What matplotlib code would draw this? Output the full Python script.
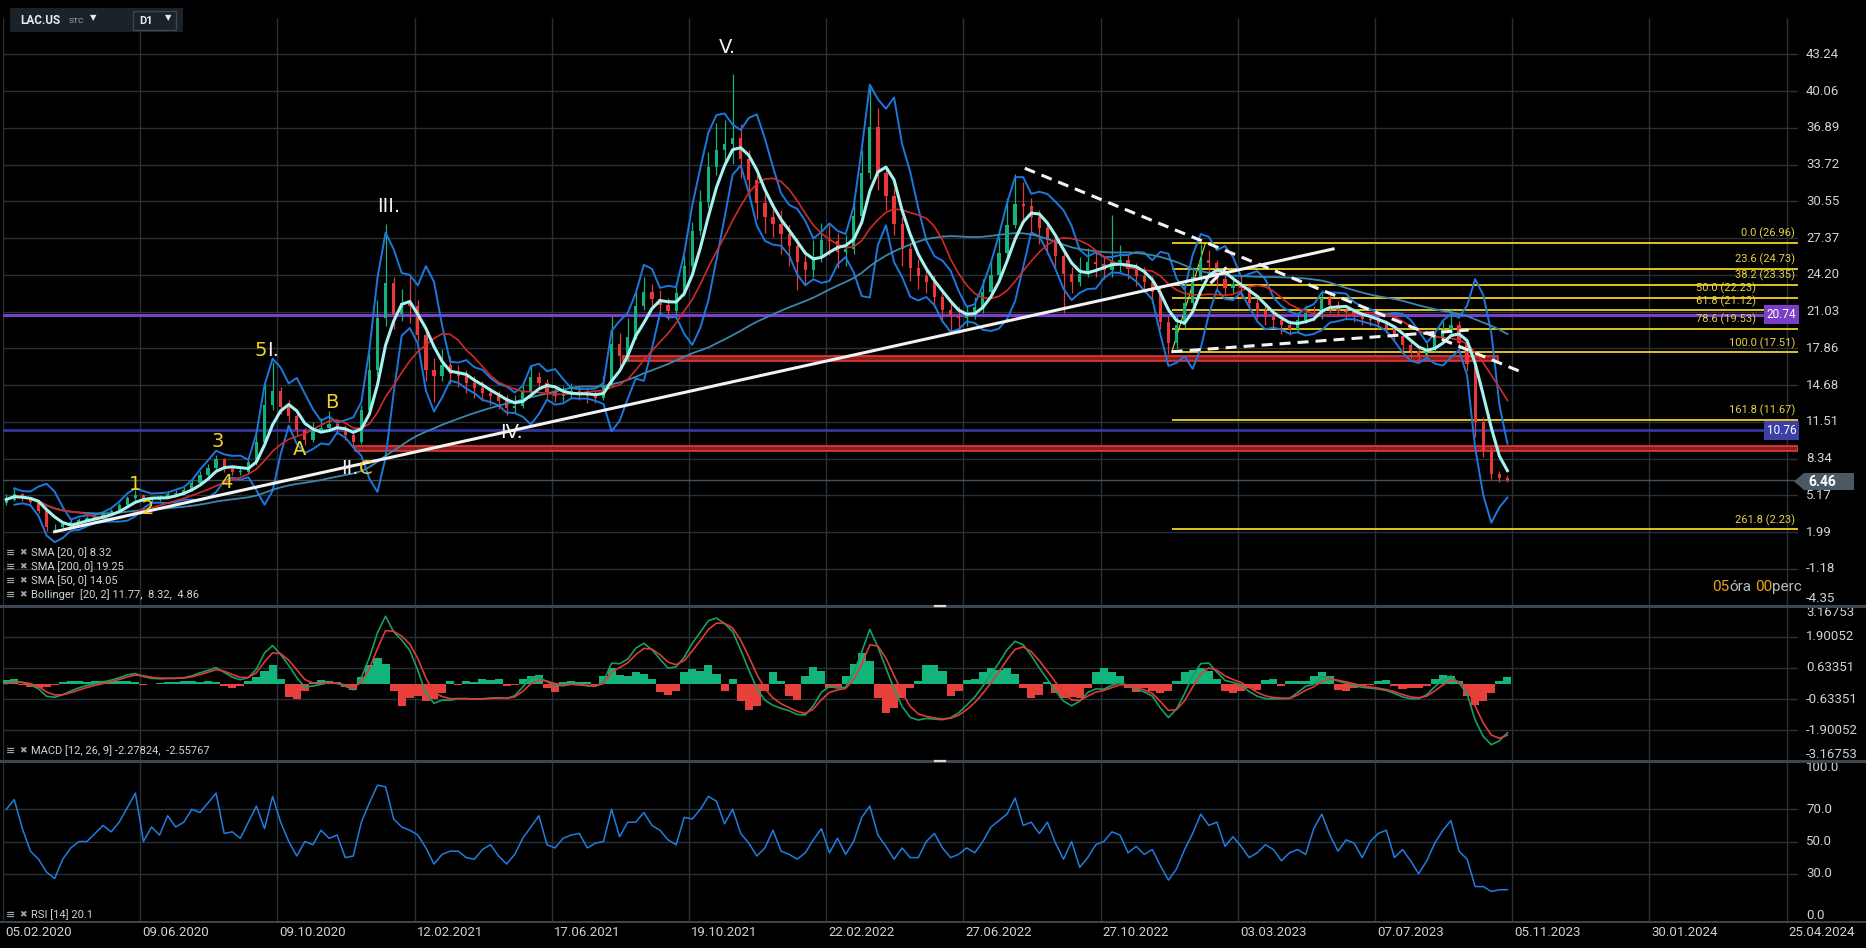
import numpy as np
import pandas as pd
import matplotlib
matplotlib.use('Agg')
import matplotlib.pyplot as plt
from matplotlib.patches import Rectangle, Polygon
from matplotlib.transforms import blended_transform_factory

plt.rcParams['font.family'] = ['Roboto', 'DejaVu Sans']

W, H = 1866, 948
BG = '#000000'
GRID = '#283037'

# axis labels
date_labels = ['05.02.2020', '09.06.2020', '09.10.2020', '12.02.2021', '17.06.2021',
               '19.10.2021', '22.02.2022', '27.06.2022', '27.10.2022', '03.03.2023',
               '07.07.2023', '05.11.2023', '30.01.2024', '25.04.2024']
bars_per_label = 85
price_ticks = [43.24, 40.06, 36.89, 33.72, 30.55, 27.37, 24.20, 21.03, 17.86,
               14.68, 11.51, 8.34, 5.17, 1.99, -1.18, -4.35]
macd_ticks = [3.16753, 1.90052, 0.63351, -0.63351, -1.90052, -3.16753]
rsi_ticks = [100.0, 70.0, 50.0, 30.0, 0.0]

# weekly candles (5 daily bars each)
closes = [4.8, 5.3, 4.9, 4.6, 3.8, 2.4, 2.4, 2.65, 2.9, 3.05,
          3.2, 3.3, 3.55, 3.85, 4.3, 4.9, 5.2, 4.75, 4.8, 5.0,
          5.25, 5.4, 5.65, 6.2, 6.9, 7.5, 8.3, 7.5, 7.2, 7.2,
          8.0, 9.8, 13.0, 14.2, 12.8, 12.0, 10.8, 9.9, 10.8, 11.0,
          11.3, 10.9, 10.4, 9.8, 12.5, 16.0, 20.5, 23.5, 20.8, 21.8,
          21.5, 19.0, 16.0, 15.5, 16.4, 15.6, 15.5, 14.9, 14.4, 14.0,
          13.7, 13.3, 12.7, 12.9, 14.2, 15.4, 14.9, 14.1, 13.7, 13.9,
          14.2, 13.9, 13.7, 13.6, 14.6, 18.2, 17.2, 18.8, 21.5, 22.7,
          22.1, 21.6, 21.1, 22.6, 25.0, 28.0, 30.5, 33.5, 35.0, 35.5,
          36.0, 34.2, 32.4, 30.4, 29.2, 28.6, 27.7, 26.7, 25.3, 24.6,
          25.7, 27.2, 27.1, 26.2, 26.4, 29.3, 33.0, 37.0, 33.0, 31.0,
          28.6, 26.4, 24.8, 24.1, 23.6, 22.3, 21.2, 20.6, 20.5, 20.9,
          21.4, 22.7, 24.2, 26.1, 28.5, 30.3, 30.1, 29.2, 28.2, 27.2,
          25.8, 24.3, 23.6, 24.3, 25.3, 25.1, 24.6, 25.3, 25.5, 24.7,
          24.1, 23.6, 22.7, 20.1, 18.3, 19.9, 21.8, 24.0, 25.5, 25.2,
          23.8, 23.1, 23.4, 23.1, 21.8, 21.1, 20.6, 20.3, 19.9, 19.5,
          20.3, 20.9, 20.8, 22.2, 21.6, 21.1, 21.0, 20.7, 20.4, 20.3,
          20.0, 19.6, 18.9, 18.1, 17.6, 17.3, 17.7, 18.8, 19.4, 19.9,
          18.3, 16.5, 11.5, 9.0, 7.0, 6.7, 6.46]
highs = [5.3, 5.9, 5.4, 5.0, 4.7, 3.9, 2.7, 2.9, 3.1, 3.2,
         3.35, 3.45, 3.7, 4.0, 4.5, 5.1, 5.6, 5.3, 5.0, 5.2,
         5.5, 5.6, 5.9, 6.6, 7.3, 7.9, 8.6, 8.4, 7.8, 7.6,
         8.4, 10.6, 15.0, 16.7, 14.5, 13.4, 12.3, 11.0, 11.5, 11.8,
         12.4, 11.7, 11.2, 10.6, 13.0, 17.4, 22.0, 28.6, 24.0, 23.0,
         24.0, 22.0, 19.5, 17.0, 17.8, 17.2, 16.4, 16.0, 15.5, 15.0,
         14.5, 14.2, 13.8, 13.8, 15.0, 16.4, 15.8, 15.2, 14.6, 14.6,
         14.9, 14.6, 14.4, 14.2, 15.5, 20.6, 19.2, 20.5, 22.8, 24.0,
         23.4, 22.9, 22.2, 23.5, 25.8, 28.8, 31.5, 34.8, 37.3, 37.6,
         41.5, 37.2, 35.0, 32.8, 31.3, 30.4, 29.8, 28.5, 27.4, 26.3,
         27.2, 28.7, 28.5, 27.8, 27.6, 30.5, 35.0, 40.3, 38.6, 33.5,
         31.6, 29.2, 27.0, 25.6, 25.0, 24.2, 23.0, 22.0, 21.5, 21.6,
         22.3, 23.8, 25.3, 27.5, 30.8, 32.9, 32.2, 30.8, 29.8, 28.6,
         27.6, 26.3, 24.9, 25.7, 26.5, 26.2, 25.7, 29.4, 26.8, 26.0,
         25.2, 24.9, 24.1, 23.2, 20.6, 20.6, 22.9, 24.9, 26.9, 26.3,
         25.5, 24.3, 24.1, 24.0, 23.4, 22.4, 21.6, 21.2, 20.8, 20.3,
         20.8, 21.6, 21.5, 22.9, 22.6, 21.9, 21.6, 21.3, 21.0, 20.8,
         20.6, 20.3, 19.8, 19.2, 18.4, 17.9, 18.3, 19.4, 20.2, 21.3,
         20.2, 18.6, 16.6, 11.9, 9.3, 7.3, 6.9]
lows = [4.3, 4.7, 4.7, 4.4, 3.6, 2.1, 2.0, 2.3, 2.6, 2.8,
        2.95, 3.1, 3.25, 3.5, 3.8, 4.2, 4.8, 4.6, 4.6, 4.7,
        4.9, 5.1, 5.3, 5.6, 6.1, 6.8, 7.3, 7.2, 6.9, 6.9,
        7.0, 7.8, 9.6, 12.5, 12.2, 11.5, 10.3, 9.5, 9.8, 10.5,
        10.7, 10.5, 9.9, 9.3, 9.6, 12.3, 15.5, 19.8, 19.5, 20.2,
        20.0, 18.5, 15.0, 13.2, 15.0, 14.8, 14.5, 14.0, 13.6, 13.3,
        13.0, 12.6, 12.1, 12.3, 12.7, 14.0, 14.3, 13.6, 13.2, 13.3,
        13.6, 13.4, 13.1, 13.1, 13.4, 14.6, 16.3, 16.8, 18.7, 21.2,
        21.4, 20.9, 20.3, 20.8, 22.4, 24.6, 27.6, 30.0, 32.8, 33.6,
        33.8, 32.6, 30.8, 29.0, 27.8, 27.5, 26.0, 25.0, 22.9, 23.4,
        24.0, 25.3, 25.9, 24.8, 25.0, 26.0, 29.0, 32.5, 31.5, 29.8,
        27.6, 25.0, 23.7, 23.0, 22.6, 21.4, 20.1, 19.4, 19.2, 19.8,
        20.4, 20.9, 22.3, 23.6, 25.6, 28.2, 28.6, 27.9, 26.9, 26.0,
        24.8, 20.9, 22.6, 23.2, 24.0, 24.0, 23.8, 24.0, 24.4, 23.8,
        23.2, 22.7, 21.8, 19.5, 17.4, 17.9, 19.6, 21.6, 23.7, 24.2,
        23.0, 22.4, 22.6, 22.2, 21.2, 20.4, 19.9, 19.6, 19.1, 19.0,
        19.2, 20.0, 20.2, 20.4, 20.9, 20.6, 20.4, 20.1, 19.9, 19.8,
        19.5, 19.2, 18.5, 17.6, 17.0, 16.8, 17.1, 17.5, 18.6, 19.1,
        17.8, 15.9, 10.2, 8.5, 6.6, 6.3, 6.3]
first_open = 4.5

# MACD histogram, one value per week
macd_hist = [0.15, 0.18, -0.05, -0.15, -0.19, -0.15, -0.05, 0.08, 0.1, 0.1,
             0.08, 0.1, 0.12, 0.1, 0.1, 0.12, 0.08, -0.05, -0.04, 0.03,
             0.05, 0.08, 0.1, 0.1, 0.08, 0.1, 0.05, -0.1, -0.18, -0.1,
             0.1, 0.28, 0.5, 0.76, 0.2, -0.55, -0.64, -0.3, 0.05, 0.15,
             0.12, 0.08, -0.15, -0.25, 0.25, 0.75, 1.03, 0.8, -0.3, -0.94,
             -0.6, -0.5, -0.73, -0.65, -0.4, 0.1, -0.08, 0.12, 0.05, 0.2,
             0.15, 0.18, -0.1, -0.05, 0.2, 0.3, 0.35, -0.2, -0.33, 0.05,
             0.1, 0.08, 0.06, -0.05, 0.3, 0.62, 0.35, 0.3, 0.49, 0.4,
             0.2, -0.35, -0.46, -0.3, 0.45, 0.6, 0.5, 0.76, 0.4, -0.3,
             0.2, -0.7, -1.07, -0.9, -0.3, 0.49, 0.1, -0.5, -0.67, 0.3,
             0.69, 0.5, -0.2, -0.15, 0.3, 0.8, 1.24, 0.9, -0.6, -1.21,
             -1.0, -0.6, -0.2, 0.1, 0.76, 0.76, 0.5, -0.53, -0.3, 0.15,
             0.2, 0.45, 0.62, 0.55, 0.62, 0.4, -0.2, -0.6, -0.45, 0.05,
             -0.4, -0.6, -0.55, -0.6, -0.2, 0.45, 0.62, 0.45, 0.3, -0.2,
             -0.35, -0.2, -0.3, -0.4, -0.3, 0.1, 0.45, 0.55, 0.62, 0.5,
             0.2, -0.3, -0.4, -0.3, -0.2, -0.25, 0.15, 0.2, -0.1, 0.1,
             0.12, 0.1, 0.3, 0.49, 0.3, -0.25, -0.29, -0.2, -0.1, -0.05,
             0.12, 0.15, -0.1, -0.23, -0.2, -0.2, -0.1, 0.2, 0.35, 0.3,
             0.1, -0.5, -0.87, -0.7, -0.4, 0.1, 0.28]

# RSI [14], one value per week
rsi_vals = [70, 76, 58, 44, 39, 31, 27, 39, 46, 50,
            50, 55, 60, 56, 62, 71, 80, 50, 59, 54,
            66, 59, 62, 70, 68, 74, 80, 55, 56, 52,
            62, 72, 58, 78, 62, 50, 41, 50, 48, 57,
            52, 54, 40, 41, 62, 74, 85, 84, 64, 59,
            57, 54, 46, 36, 42, 44, 44, 40, 39, 45,
            48, 41, 36, 42, 52, 59, 66, 48, 46, 52,
            54, 55, 46, 49, 50, 70, 53, 62, 62, 68,
            60, 57, 51, 48, 65, 64, 70, 78, 75, 61,
            70, 55, 49, 41, 46, 57, 44, 42, 39, 43,
            51, 58, 43, 52, 42, 50, 65, 72, 54, 47,
            39, 46, 40, 40, 50, 55, 46, 40, 42, 46,
            43, 50, 59, 63, 67, 77, 60, 62, 55, 62,
            49, 39, 50, 34, 40, 48, 50, 56, 54, 43,
            47, 42, 45, 35, 26, 33, 45, 55, 67, 60,
            62, 47, 53, 47, 40, 43, 48, 45, 38, 43,
            45, 42, 58, 67, 54, 44, 51, 49, 40, 50,
            55, 57, 40, 45, 38, 30, 38, 49, 57, 63,
            44, 39, 22, 22, 19, 20, 20.1]

# drawn levels
fib_levels = [0.0, 23.6, 38.2, 50.0, 61.8, 78.6, 100.0, 161.8, 261.8]
fib_prices = [26.96, 24.73, 23.35, 22.23, 21.12, 19.53, 17.51, 11.67, 2.23]
fib_start = 724
purple_level = 20.74
blue_level = 10.76
last_price = 6.46
red_zones = [(384, 926, 16.72, 17.19), (218, 1112, 9.0, 9.45)]

trend_solid = [(32, 2.02), (824, 26.43)]
trend_dashed = [[(633, 33.4), (940, 15.85)],
                [(724, 17.56), (908, 19.43)],
                [(748, 23.46), (758, 24.84)]]
fib_anchor = [(724, 17.51), (745, 26.96)]

WHITE = '#f2f2f2'
YEL = '#f0d21e'
wave_labels = [('V.', 449, 43.8, WHITE, 'center'),
               ('III.', 239, 30.1, WHITE, 'center'),
               ('5', 163.6, 17.7, YEL, 'right'),
               ('I.', 163.6, 17.7, WHITE, 'left'),
               ('IV.', 315, 10.6, WHITE, 'center'),
               ('II.', 220.6, 7.5, WHITE, 'right'),
               ('C', 220.6, 7.5, YEL, 'left'),
               ('1', 81.8, 6.1, YEL, 'center'),
               ('2', 89.8, 4.06, YEL, 'center'),
               ('3', 133.2, 9.85, YEL, 'center'),
               ('4', 138.2, 6.3, YEL, 'center'),
               ('A', 184, 9.16, YEL, 'center'),
               ('B', 203.8, 13.2, YEL, 'center')]

# ---- indicators from the weekly closes (daily settings converted to weeks)
close = pd.Series(closes)
opens = close.shift(1).fillna(first_open)
xw = np.arange(len(closes)) * 5 + 2

sma20 = close.rolling(4, min_periods=1).mean()
sma50 = close.rolling(10, min_periods=1).mean()
sma200 = close.rolling(40, min_periods=1).mean()
bb_std = close.rolling(4, min_periods=2).std()
bb_up = sma20 + 2 * bb_std
bb_dn = sma20 - 2 * bb_std


def wk_alpha(n):
    # weekly EMA with the same lag as an n-day EMA
    return 10 / (n + 9)


ema12 = close.ewm(alpha=wk_alpha(12), adjust=False).mean()
ema26 = close.ewm(alpha=wk_alpha(26), adjust=False).mean()
macd = ema12 - ema26
signal = macd.ewm(alpha=wk_alpha(9), adjust=False).mean()
hist = np.array(macd_hist)

# ---- figure
fig = plt.figure(figsize=(W / 100, H / 100), dpi=100, facecolor=BG)


def fx(px):
    return px / W


def fy(py):
    return 1 - py / H


L, R = 3, 1798
XMAX = 1112
ax = fig.add_axes([fx(L), fy(605.5), fx(R) - fx(L), fy(18) - fy(605.5)])
axm = fig.add_axes([fx(L), fy(761), fx(R) - fx(L), fy(606) - fy(761)])
axr = fig.add_axes([fx(L), fy(922), fx(R) - fx(L), fy(761) - fy(922)])
ax.set_ylim(-4.35, 46.37)
axm.set_ylim(-3.16753, 3.16753)
axr.set_ylim(0, 100)
for a in (ax, axm, axr):
    a.axis('off')
    a.set_xlim(0, XMAX)
    for k in range(len(date_labels)):
        a.axvline(k * bars_per_label, color=GRID, lw=1, zorder=0)

for p in price_ticks[:-1]:
    ax.axhline(p, color=GRID, lw=1, zorder=0)
for p in macd_ticks[1:-1]:
    axm.axhline(p, color=GRID, lw=1, zorder=0)
for p in rsi_ticks[1:-1]:
    axr.axhline(p, color=GRID, lw=1, zorder=0)

# horizontal levels
ax.axhline(last_price, color='#46515b', lw=1, zorder=1)
for x0, x1, y0, y1 in red_zones:
    ax.add_patch(Rectangle((x0, y0), x1 - x0, y1 - y0, fc='#8a1d1d', ec='#e53a3a', lw=1.2, zorder=2))
ax.axhline(purple_level, color='#7c3fc8', lw=2.2, zorder=2)
ax.axhline(blue_level, color='#3436a2', lw=2.0, zorder=2)
for lvl, p in zip(fib_levels, fib_prices):
    ax.hlines(p, fib_start, XMAX, color=YEL, lw=1.3, zorder=2)
    # the 78.6 label sits just left of the purple price box
    lx = XMAX - 26 if abs(p - purple_level) < 1.5 else XMAX - 2
    ax.text(lx, p + 0.3, f'{lvl:.1f} ({p:.2f})', ha='right', va='bottom',
            fontsize=8, color='#e6d24a', zorder=3)
ax.plot(*zip(*fib_anchor), color=YEL, lw=0.8, zorder=3)

# candles
o = opens.values
c = close.values
col = np.where(c >= o, '#14b27a', '#e8393a')
ax.vlines(xw, lows, highs, colors=col, lw=0.9, zorder=3)
ax.bar(xw, np.maximum(np.abs(c - o), 0.06), bottom=np.minimum(o, c), width=2.0,
       color=col, lw=0, zorder=3)

# moving averages and bands
ax.plot(xw, bb_up, color='#1c78de', lw=1.4, zorder=4)
ax.plot(xw, bb_dn, color='#1c78de', lw=1.4, zorder=4)
ax.plot(xw, sma200, color='#3a87ad', lw=1.3, zorder=4)
ax.plot(xw, sma50, color='#cf2a2a', lw=1.2, zorder=4)
ax.plot(xw, sma20, color='#a6f2ee', lw=2.2, zorder=5)

# trend lines
ax.plot(*zip(*trend_solid), color=WHITE, lw=2.2, zorder=6)
for seg in trend_dashed:
    ax.plot(*zip(*seg), color=WHITE, lw=2.2, dashes=(3.6, 2.3), zorder=6)

for txt, bx, py, colr, ha in wave_labels:
    ax.text(bx, py, txt, color=colr, ha=ha, va='center', fontsize=14,
            family='DejaVu Sans', zorder=7)

# level boxes on the right edge
ax.text(XMAX - 1, purple_level, f'{purple_level:.2f}', ha='right', va='center', color='white',
        fontsize=8.5, zorder=8, bbox=dict(boxstyle='square,pad=0.25', fc='#7b3fc6', ec='none'))
ax.text(XMAX - 1, blue_level, f'{blue_level:.2f}', ha='right', va='center', color='white',
        fontsize=8.5, zorder=8, bbox=dict(boxstyle='square,pad=0.25', fc='#3c3fa6', ec='none'))

# MACD
axm.bar(xw, hist, width=5, color=np.where(hist >= 0, '#12b47c', '#e8413c'), lw=0, zorder=2)
axm.plot(xw, macd, color='#16a060', lw=1.2, zorder=3)
axm.plot(xw, signal, color='#e03a3a', lw=1.2, zorder=3)

# RSI
axr.plot(xw, rsi_vals, color='#1f7ee0', lw=1.1, zorder=3)

# right-hand scales
LBL = '#cfd3d6'
for a, ticks, fmt in ((ax, price_ticks, '{:.2f}'), (axm, macd_ticks, '{:.5f}'), (axr, rsi_ticks, '{:.1f}')):
    tr = blended_transform_factory(fig.transFigure, a.transData)
    lo, hi = a.get_ylim()
    for t in ticks:
        va = 'center'
        if abs(t - hi) < 1e-6:
            va = 'top'
        elif abs(t - lo) < 1e-6:
            va = 'bottom'
        a.text(fx(1806), t, fmt.format(t), transform=tr, ha='left', va=va,
               fontsize=9.5, color=LBL)

# current price tag
tag = [(1794, 481.5), (1804, 473), (1854, 473), (1854, 490), (1804, 490)]
fig.add_artist(Polygon([(fx(x), fy(y)) for x, y in tag], closed=True, fc='#4b5964', ec='none',
                       transform=fig.transFigure))
fig.text(fx(1808), fy(481.5), f'{last_price:.2f}', ha='left', va='center', fontsize=10,
         color='white', fontweight='bold')

# date labels
for k, d in enumerate(date_labels):
    fig.text(fx(L + k * bars_per_label * (R - L) / XMAX + 2), fy(932), d, ha='left', va='center',
             fontsize=9.5, color=LBL)

# panel separators
for yy, lw in ((606, 2.2), (761, 2.2), (922, 1.4)):
    fig.add_artist(plt.Line2D([0, 1], [fy(yy), fy(yy)], color='#3b4650', lw=lw,
                              transform=fig.transFigure))
for yy in (606, 761):
    fig.add_artist(plt.Line2D([fx(935), fx(945)], [fy(yy), fy(yy)], color='#d8d8d8', lw=1.6,
                              transform=fig.transFigure))

# indicator legends
ICON = '#9ea4aa'
legend_rows = [(553, 'SMA [20, 0] 8.32'), (567, 'SMA [200, 0] 19.25'),
               (581, 'SMA [50, 0] 14.05'), (595, 'Bollinger  [20, 2] 11.77,  8.32,  4.86'),
               (751, 'MACD [12, 26, 9] -2.27824,  -2.55767'), (915, 'RSI [14] 20.1')]
for yy, txt in legend_rows:
    fig.text(fx(6), fy(yy), '\u2261', ha='left', va='center', fontsize=8, color=ICON,
             family='DejaVu Sans', fontweight='bold')
    fig.text(fx(19), fy(yy), '\u2716', ha='left', va='center', fontsize=6.5, color=ICON,
             family='DejaVu Sans')
    fig.text(fx(31), fy(yy), txt, ha='left', va='center', fontsize=8, color='#d0d3d6')

# countdown text
renderer = fig.canvas.get_renderer()
xpos = 1712
for s, colr in (('05', '#f0a020'), ('óra', '#b8bcc0'), ('\u00a0', '#b8bcc0'), ('00', '#f0a020'), ('perc', '#b8bcc0')):
    t = fig.text(fx(xpos), fy(587), s, ha='left', va='center', fontsize=11, color=colr)
    xpos += t.get_window_extent(renderer=renderer).width

# header box
fig.add_artist(Rectangle((fx(10), fy(32)), fx(173), 24 / H, fc='#1a2329', ec='none',
                         transform=fig.transFigure))
fig.add_artist(Rectangle((fx(133), fy(30)), fx(43), 19 / H, fc='none', ec='#3a4650', lw=1,
                         transform=fig.transFigure))
fig.text(fx(20), fy(20), 'LAC.US', ha='left', va='center', fontsize=8.5, color='#e8eaec',
         fontweight='bold')
fig.text(fx(69), fy(21), 'STC', ha='left', va='center', fontsize=6, color='#a8aeb4')
fig.text(fx(93), fy(18), '\u25bc', ha='center', va='center', fontsize=6, color='#e8eaec',
         family='DejaVu Sans')
fig.text(fx(139), fy(20.5), 'D1', ha='left', va='center', fontsize=8, color='#e8eaec',
         fontweight='bold')
fig.text(fx(168), fy(18), '\u25bc', ha='center', va='center', fontsize=6, color='#e8eaec',
         family='DejaVu Sans')

fig.savefig('out.png', dpi=100, facecolor=BG)
